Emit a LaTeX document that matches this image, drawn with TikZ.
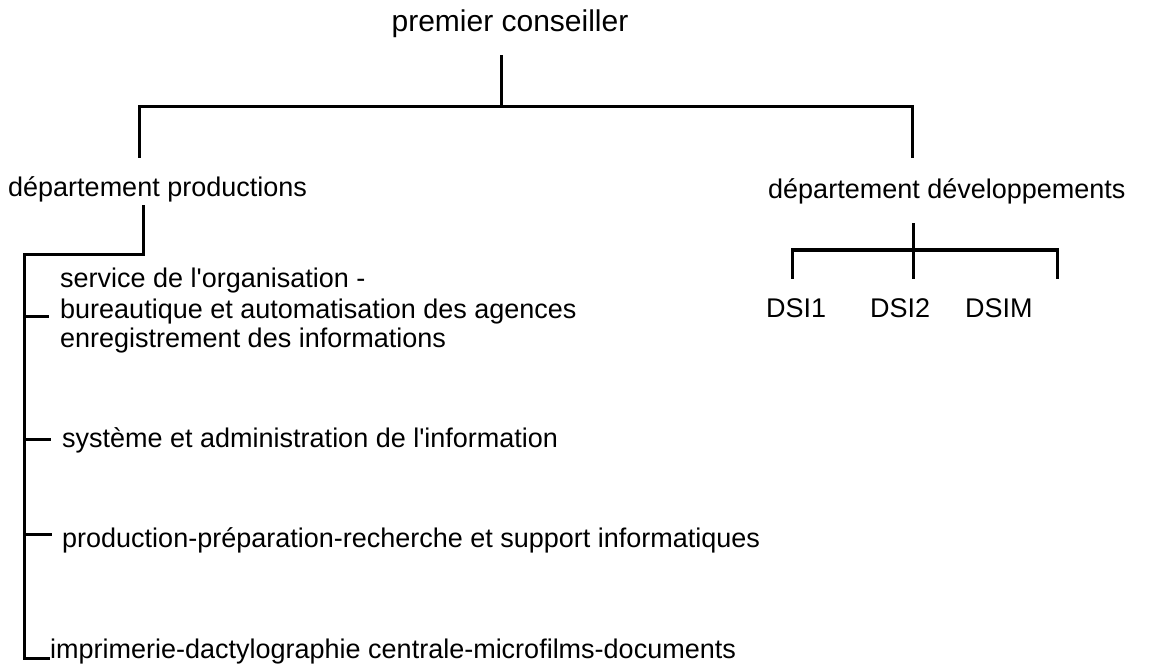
\documentclass[tikz,border=0pt]{standalone}
\usepackage{fontspec}
\setmainfont{Liberation Sans}[Ligatures=TeXOff]
\begin{document}
\begin{tikzpicture}[x=1pt, y=-1pt,
  rule/.style={line width=3pt, line cap=rect},
  lbl/.style={inner sep=0pt, anchor=base west, font=\fontsize{27}{30}\selectfont},
  head/.style={lbl, anchor=base, font=\fontsize{30}{34}\selectfont}]
\useasboundingbox (0,0) rectangle (1150,668);

% --- labels ---
\node[head] (pc) at (510,32) {premier conseiller};
\node[lbl] (dp) at (8,197) {département productions};
\node[lbl] (dd) at (768,199) {département développements};
\node[lbl] (so) at (60,287) {service de l'organisation -};
\node[lbl] (bu) at (60,318) {bureautique et automatisation des agences};
\node[lbl] (en) at (60,347) {enregistrement des informations};
\node[lbl] (sy) at (62,447) {système et administration de l'information};
\node[lbl] (pr) at (62,547) {production-préparation-recherche et support informatiques};
\node[lbl] (im) at (50,658) {imprimerie-dactylographie centrale-microfilms-documents};
\node[lbl] (d1) at (766,317) {DSI1};
\node[lbl] (d2) at (870,317) {DSI2};
\node[lbl] (dm) at (965,317) {DSIM};

% --- junction points ---
\coordinate (pcfoot) at (501,57);
\coordinate (topmid) at (501,107);
\coordinate (topl) at (139,107);
\coordinate (topr) at (912,107);
\coordinate (dptop) at (139,157);
\coordinate (ddtop) at (912,157);

\coordinate (dpfoot) at (143,207);
\coordinate (dpbend) at (143,254);
\coordinate (spinetop) at (24,254);
\coordinate (spinebot) at (24,658);
\coordinate (tickbu) at (24,316);
\coordinate (ticksy) at (24,439);
\coordinate (tickpr) at (24,534);

\coordinate (ddfoot) at (913,225);
\coordinate (ddmid) at (913,250);
\coordinate (ddl) at (792,250);
\coordinate (ddr) at (1057,250);

% --- top level ---
\draw[rule] (pcfoot) -- (topmid);
\draw[rule] (dptop) -- (topl) -- (topr) -- (ddtop);

% --- production branch ---
\draw[rule] (dpfoot) -- (dpbend) -- (spinetop) -- (spinebot) -- ++(24,0);
\draw[rule] (tickbu) -- ++(23,0);
\draw[rule] (ticksy) -- ++(25,0);
\draw[rule] (tickpr) -- ++(26,0);

% --- development branch ---
\draw[rule] (ddfoot) -- (ddmid) -- ++(0,27);
\draw[rule] (ddl) ++(0,27) -- (ddl) -- (ddr) -- ++(0,27);
\end{tikzpicture}
\end{document}
